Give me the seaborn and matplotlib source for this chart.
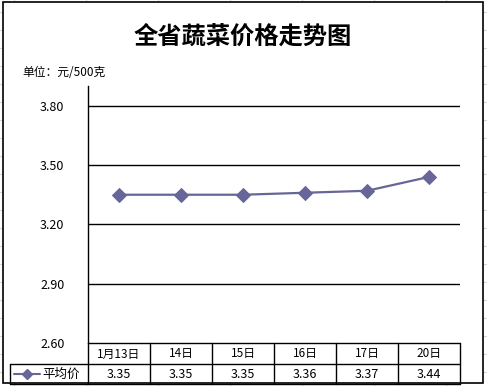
import numpy as np
import pandas as pd
import seaborn as sns
import matplotlib.pyplot as plt
from matplotlib.patches import Rectangle

dates = ['1月13日', '14日', '15日', '16日', '17日', '20日']
prices = [3.35, 3.35, 3.35, 3.36, 3.37, 3.44]
yticks = [2.60, 2.90, 3.20, 3.50, 3.80]
series_name = '平均价'
title = '全省蔬菜价格走势图'
unit = '单位：元/500克'

sns.set_style('white')
plt.rcParams['font.family'] = ['Noto Sans CJK SC', 'DejaVu Sans']
plt.rcParams['text.color'] = 'black'
plt.rcParams['ytick.color'] = 'black'

df = pd.DataFrame({'date': dates, 'price': prices, 'pos': range(len(dates))})
line_color = '#666699'

W, H = 487, 386
fig = plt.figure(figsize=(W / 100, H / 100), dpi=100)

# background spreadsheet + chart frame, in pixel coords
bg = fig.add_axes([0, 0, 1, 1])
bg.set_xlim(0, W)
bg.set_ylim(H, 0)
bg.axis('off')
for x in np.arange(14, W, 72):
    bg.plot([x, x], [0, H], color='#d4d4d4', lw=0.8, zorder=0)
for y in np.arange(12, H, 18):
    bg.plot([0, W], [y, y], color='#d4d4d4', lw=0.8, zorder=0)
bg.add_patch(Rectangle((3, 2), 480, 381, facecolor='white', edgecolor='black', lw=1.2, zorder=1))

bg.text(243, 37, title, ha='center', va='center', fontsize=17.5, fontweight='bold', zorder=3)
bg.text(22, 73, unit, ha='left', va='center', fontsize=8.5, zorder=3)

# data table
left, right = 88, 460
cw = (right - left) / len(dates)
bg.plot([left, right], [343, 343], color='black', lw=1, zorder=3)
bg.plot([10, right], [364, 364], color='black', lw=1, zorder=3)
bg.plot([10, right], [384, 384], color='black', lw=1, zorder=3)
bg.plot([10, 10], [364, 384], color='black', lw=1, zorder=3)
for i in range(len(dates) + 1):
    x = left + i * cw
    bg.plot([x, x], [343, 384], color='black', lw=1, zorder=3)
for i, (d, p) in enumerate(zip(dates, prices)):
    cx = left + (i + 0.5) * cw
    bg.text(cx, 354, d, ha='center', va='center', fontsize=8.5, zorder=4)
    bg.text(cx, 374, f'{p:.2f}', ha='center', va='center', fontsize=9, zorder=4)
bg.plot([14, 40], [374, 374], color=line_color, lw=1.5, zorder=4)
bg.plot([27], [374], marker='D', color=line_color, ms=5, zorder=4)
bg.text(42, 374, series_name, ha='left', va='center', fontsize=9, zorder=4)

# plot area
ax = fig.add_axes([88 / W, (H - 343) / H, (right - left) / W, (343 - 86) / H])
ax.patch.set_alpha(0)
sns.lineplot(data=df, x='pos', y='price', ax=ax, color=line_color, lw=1.6,
             marker='D', markersize=7, markeredgecolor=line_color, legend=False)
ax.set_xlim(-0.5, len(dates) - 0.5)
ax.set_ylim(2.6, 3.9)
ax.set_yticks(yticks)
ax.set_yticklabels([f'{v:.2f}' for v in yticks], fontsize=9)
ax.set_xticks([])
ax.set_xlabel('')
ax.set_ylabel('')
for v in yticks[1:]:
    ax.axhline(v, color='black', lw=1, zorder=0)
for s in ['top', 'right', 'bottom']:
    ax.spines[s].set_visible(False)
ax.spines['left'].set_color('black')
ax.spines['left'].set_linewidth(1)
ax.tick_params(axis='y', length=0, pad=17)

fig.savefig('out.png', dpi=100)
